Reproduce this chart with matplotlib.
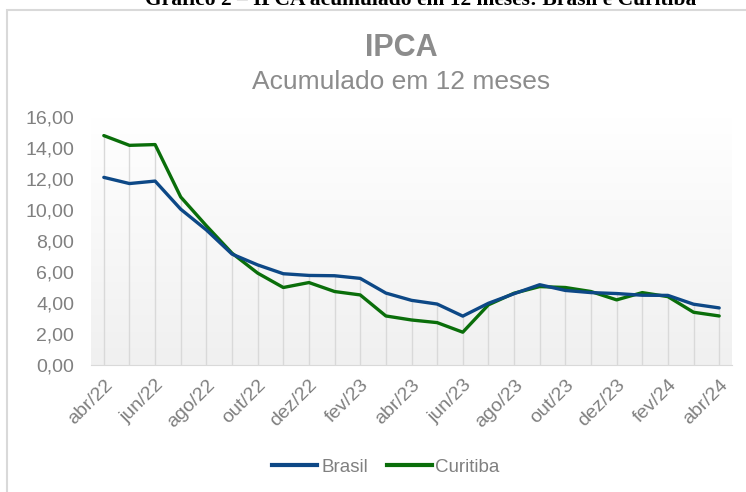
import numpy as np
import matplotlib.pyplot as plt
from matplotlib.colors import LinearSegmentedColormap
from matplotlib.lines import Line2D
from matplotlib.patches import Rectangle

# Data: IPCA accumulated over 12 months (%)
months = ["abr/22", "mai/22", "jun/22", "jul/22", "ago/22", "set/22", "out/22", "nov/22",
          "dez/22", "jan/23", "fev/23", "mar/23", "abr/23", "mai/23", "jun/23", "jul/23",
          "ago/23", "set/23", "out/23", "nov/23", "dez/23", "jan/24", "fev/24", "mar/24",
          "abr/24"]
brasil = [12.13, 11.73, 11.89, 10.07, 8.73, 7.17, 6.47, 5.90, 5.79, 5.77, 5.60, 4.65,
          4.18, 3.94, 3.16, 3.99, 4.61, 5.19, 4.82, 4.68, 4.62, 4.51, 4.50, 3.93, 3.69]
curitiba = [14.83, 14.20, 14.25, 10.86, 9.00, 7.23, 5.94, 5.01, 5.33, 4.75, 4.53, 3.17,
            2.91, 2.74, 2.12, 3.89, 4.64, 5.07, 5.01, 4.75, 4.21, 4.68, 4.42, 3.41, 3.17]
yticks = [0, 2, 4, 6, 8, 10, 12, 14, 16]

blue = "#0d4886"
green = "#0a6e0a"
grey = "#808080"

plt.rcParams["font.family"] = ["Liberation Sans", "DejaVu Sans"]

fig = plt.figure(figsize=(7.46, 4.92), dpi=100)

# outer chart frame (runs off the right and bottom of the picture)
fig.add_artist(Rectangle((7 / 746, -0.05), 1.2, 1 - 10 / 492 + 0.05,
                         transform=fig.transFigure, fill=False,
                         edgecolor="#d9d9d9", lw=1.5))

# document caption, cut off at the top like in the source page
fig.text(421 / 746, 1 - 5 / 492, "Gráfico 2 – IPCA acumulado em 12 meses: Brasil e Curitiba",
         ha="center", va="baseline", fontsize=15.5, fontweight="bold",
         family=["Liberation Serif", "DejaVu Serif"], color="black")

fig.text(401 / 746, 1 - 48 / 492, "IPCA", ha="center", va="center",
         fontsize=22, fontweight="bold", color="#8c8c8c")
fig.text(401 / 746, 1 - 82 / 492, "Acumulado em 12 meses", ha="center", va="center",
         fontsize=19, color="#8c8c8c")

ax = fig.add_axes([91 / 746, 1 - 365 / 492, (732 - 91) / 746, (365 - 117.5) / 492])
x = np.arange(len(months))

# gradient background of the plot area (white on top, light grey at the bottom)
grad = np.linspace(0, 1, 256).reshape(-1, 1)
bg = LinearSegmentedColormap.from_list("bg", ["#ffffff", "#f0f0f0"])
ax.imshow(grad, extent=[-0.5, 24.5, 0, 16], aspect="auto", origin="upper",
          cmap=bg, zorder=0)

# drop lines
ax.vlines(x, 0, np.maximum(brasil, curitiba), color="#d9d9d9", lw=1, zorder=1)

ax.plot(x, brasil, color=blue, lw=2.4, solid_capstyle="round", zorder=3)
ax.plot(x, curitiba, color=green, lw=2.4, solid_capstyle="round", zorder=2)

ax.set_xlim(-0.5, 24.5)
ax.set_ylim(0, 16)
ax.set_yticks(yticks)
ax.set_yticklabels([f"{v:.2f}".replace(".", ",") for v in yticks])
ax.set_xticks(x[::2])
ax.set_xticklabels(months[::2], rotation=45, ha="right", rotation_mode="anchor")
ax.tick_params(axis="both", length=0, labelsize=14, labelcolor=grey)
ax.tick_params(axis="y", pad=12)
ax.tick_params(axis="x", pad=8)

for s in ["left", "right", "top"]:
    ax.spines[s].set_visible(False)
ax.spines["bottom"].set_color("#d9d9d9")

handles = [Line2D([], [], color=blue, lw=3), Line2D([], [], color=green, lw=3)]
fig.legend(handles, ["Brasil", "Curitiba"], loc="center", bbox_to_anchor=(386 / 746, 1 - 467 / 492),
           ncol=2, frameon=False, fontsize=13.5, labelcolor=grey, handlelength=2.4,
           handletextpad=0.2, columnspacing=1.0)

fig.savefig("out.png", dpi=100)
